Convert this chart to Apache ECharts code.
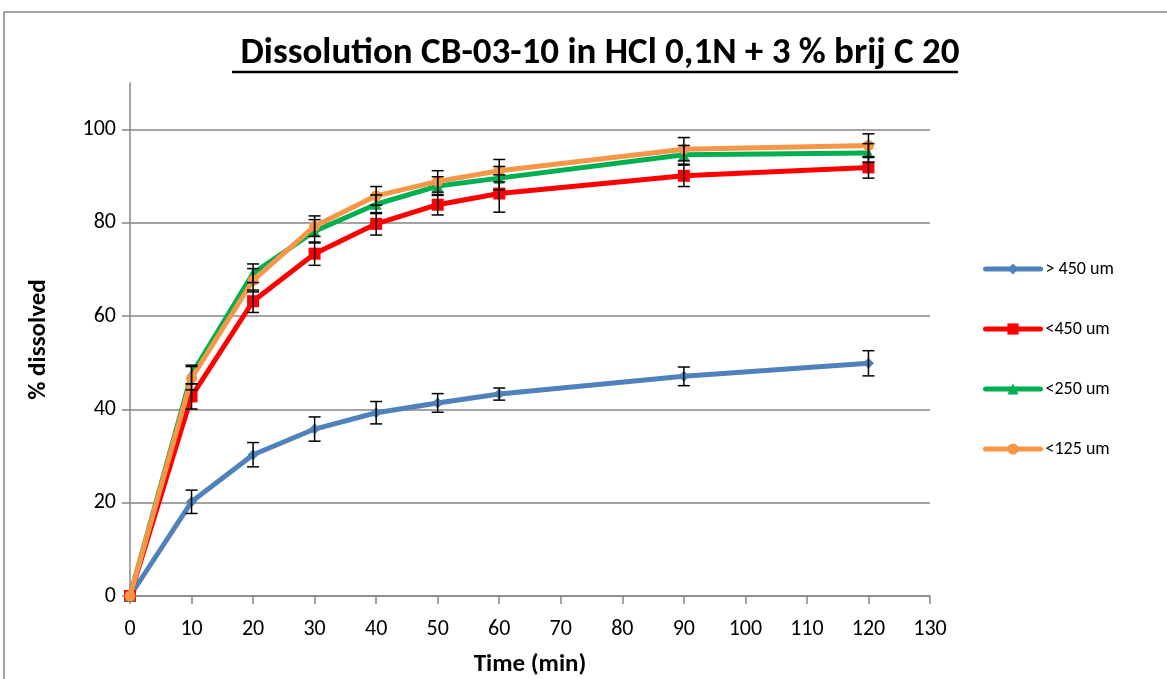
<!DOCTYPE html>
<html>
<head>
<meta charset="utf-8">
<script src="https://cdn.jsdelivr.net/npm/echarts@6/dist/echarts.min.js"></script>
<style>
  html, body { margin: 0; padding: 0; background: #fff; }
  #main { width: 1167px; height: 679px; }
</style>
</head>
<body>
<div id="main"></div>
<script>
// time points (min)
var times = [0, 10, 20, 30, 40, 50, 60, 90, 120];

// % dissolved per fraction
var over450 = [0, 20.2, 30.3, 35.8, 39.3, 41.4, 43.3, 47.1, 49.9];
var under450 = [0, 42.8, 63.2, 73.4, 79.8, 83.9, 86.3, 90.1, 91.9];
var under250 = [0, 47.5, 69.2, 78.2, 84.0, 87.9, 89.6, 94.6, 95.0];
var under125 = [0, 46.7, 67.7, 79.3, 85.8, 88.9, 91.2, 95.8, 96.6];

// standard deviations (error bars)
var over450Err = [0, 2.5, 2.6, 2.6, 2.4, 2.0, 1.3, 2.0, 2.7];
var under450Err = [0, 2.7, 2.4, 2.5, 2.4, 2.2, 4.0, 2.3, 2.3];
var under250Err = [0, 2.0, 2.0, 2.5, 2.0, 2.0, 2.5, 2.0, 2.0];
var under125Err = [0, 2.5, 2.5, 2.2, 2.0, 2.3, 2.4, 2.5, 2.5];

var names = ['> 450 um', '<450 um', '<250 um', '<125 um'];
var colors = ['#4f81bd', '#ff0000', '#00b050', '#f79646'];
var symbols = ['diamond', 'rect', 'triangle', 'circle'];
var symbolSizes = [11, 12, 11, 11];

var allVals = [over450, under450, under250, under125];
var allErrs = [over450Err, under450Err, under250Err, under125Err];

var chart = echarts.init(document.getElementById('main'));

var pairs = function (vals) {
    var out = [];
    for (var i = 0; i < times.length; i++) {
        out.push([times[i], vals[i]]);
    }
    return out;
};

var errData = function (vals, errs) {
    var out = [];
    for (var i = 1; i < times.length; i++) {
        out.push([times[i], vals[i] - errs[i], vals[i] + errs[i]]);
    }
    return out;
};

// error bar: vertical stroke plus two caps
var renderErr = function (params, api) {
    var x = api.value(0);
    var lo = api.coord([x, api.value(1)]);
    var hi = api.coord([x, api.value(2)]);
    var w = 6;
    var st = {stroke: '#000', lineWidth: 1.5};
    return {
        type: 'group',
        children: [
            {type: 'line', shape: {x1: lo[0], y1: lo[1], x2: hi[0], y2: hi[1]}, style: st},
            {type: 'line', shape: {x1: lo[0] - w, y1: lo[1], x2: lo[0] + w, y2: lo[1]}, style: st},
            {type: 'line', shape: {x1: hi[0] - w, y1: hi[1], x2: hi[0] + w, y2: hi[1]}, style: st}
        ]
    };
};

var series = [];
for (var s = 0; s < names.length; s++) {
    series.push({
        name: names[s],
        type: 'line',
        data: pairs(allVals[s]),
        symbol: symbols[s],
        symbolSize: symbolSizes[s],
        showAllSymbol: true,
        lineStyle: {color: colors[s], width: 5},
        itemStyle: {color: colors[s]},
        z: 3 + s,
        animation: false
    });
}
for (var e = 0; e < names.length; e++) {
    series.push({
        type: 'custom',
        renderItem: renderErr,
        data: errData(allVals[e], allErrs[e]),
        encode: {x: 0, y: [1, 2]},
        z: 10,
        silent: true,
        animation: false
    });
}

var fam = 'Carlito, "Liberation Sans Narrow", "Open Sans", sans-serif';

var option = {
    backgroundColor: '#fff',
    animation: false,
    title: {
        text: 'Dissolution CB-03-10 in HCl 0,1N + 3 % brij C 20',
        left: 595,
        textAlign: 'center',
        top: 30,
        textStyle: {
            fontFamily: fam,
            fontWeight: 'bold',
            fontSize: 37,
            color: '#000'
        }
    },
    legend: {
        orient: 'vertical',
        left: 978,
        top: 255,
        itemWidth: 55,
        itemHeight: 14,
        itemGap: 42,
        data: names,
        lineStyle: {width: 5, cap: 'round'},
        textStyle: {fontFamily: fam, fontSize: 18, color: '#000'}
    },
    grid: {left: 130, right: 237, top: 83, bottom: 83, outerBoundsMode: 'none', containLabel: false},
    xAxis: {
        type: 'value',
        min: 0,
        max: 130,
        interval: 10,
        name: 'Time (min)',
        nameLocation: 'middle',
        nameGap: 56,
        nameTextStyle: {fontFamily: fam, fontSize: 25, fontWeight: 'bold', color: '#000'},
        axisLine: {lineStyle: {color: '#868686', width: 1.5}},
        axisTick: {show: true, length: 8, lineStyle: {color: '#868686', width: 1.5}},
        axisLabel: {fontFamily: fam, fontSize: 22, color: '#000', margin: 22},
        splitLine: {show: false}
    },
    yAxis: {
        type: 'value',
        min: 0,
        max: 110,
        interval: 20,
        name: '% dissolved',
        nameLocation: 'middle',
        nameGap: 79,
        nameTextStyle: {fontFamily: fam, fontSize: 25, fontWeight: 'bold', color: '#000'},
        axisLine: {show: true, lineStyle: {color: '#868686', width: 1.5}},
        axisTick: {show: true, length: 8, lineStyle: {color: '#868686', width: 1.5}},
        axisLabel: {fontFamily: fam, fontSize: 22, color: '#000', margin: 14, showMaxLabel: false},
        splitLine: {show: true, showMaxLine: false, lineStyle: {color: '#868686', width: 1.5}}
    },
    graphic: [
        {
            type: 'rect',
            shape: {x: 4, y: 12, width: 1200, height: 700},
            style: {fill: 'none', stroke: '#868686', lineWidth: 1.5},
            silent: true,
            z: -10
        },
        {
            type: 'line',
            shape: {x1: 232, y1: 72, x2: 958, y2: 72},
            style: {stroke: '#000', lineWidth: 2.5},
            silent: true
        }
    ],
    series: series
};

chart.setOption(option);
</script>
</body>
</html>
